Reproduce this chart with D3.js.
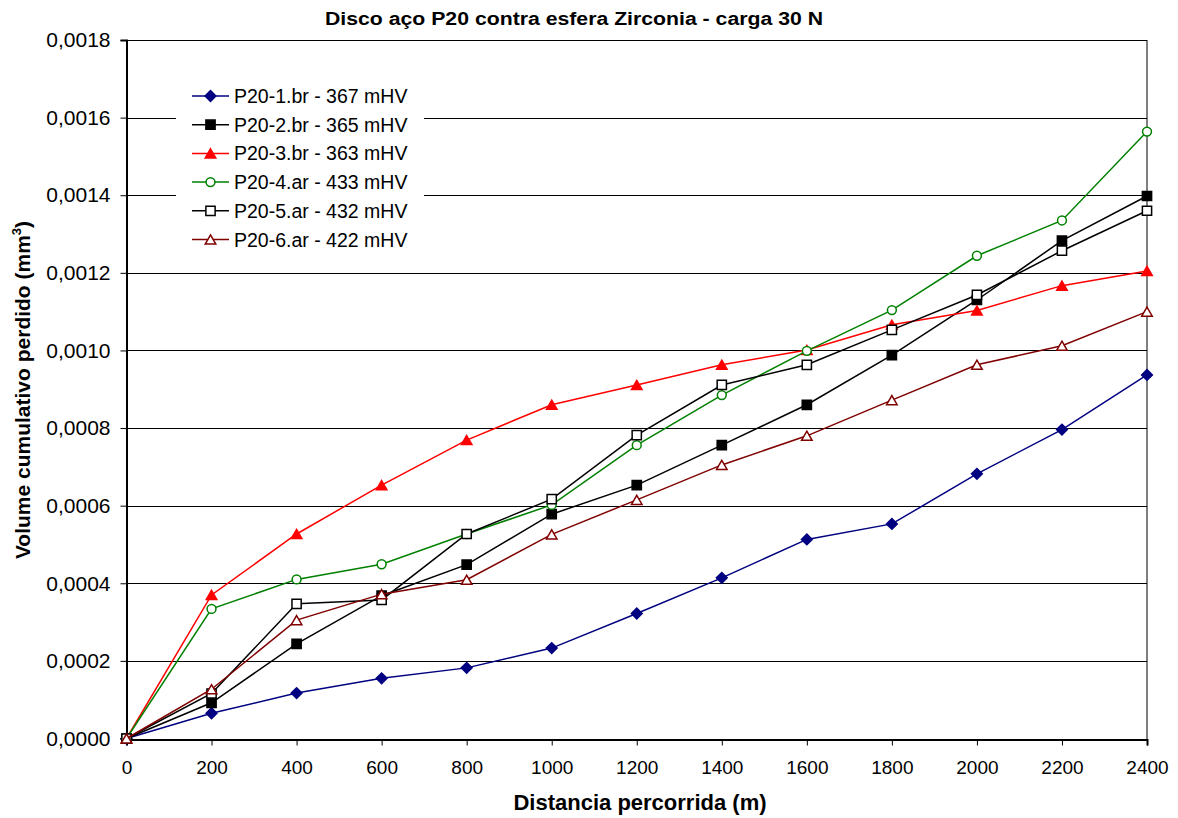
<!DOCTYPE html>
<html>
<head>
<meta charset="utf-8">
<script src="https://cdn.jsdelivr.net/npm/d3@7"></script>
<style>
	body { margin: 0; background: #fff; }
	text { font-family: "Liberation Sans", Arial, sans-serif; }
</style>
</head>
<body>
<svg id="chart" width="1178" height="818"></svg>
<script>
// Chart data
const distances = [0, 200, 400, 600, 800, 1000, 1200, 1400, 1600, 1800, 2000, 2200, 2400]
const seriesNames = [
	"P20-1.br - 367 mHV",
	"P20-2.br - 365 mHV",
	"P20-3.br - 363 mHV",
	"P20-4.ar - 433 mHV",
	"P20-5.ar - 432 mHV",
	"P20-6.ar - 422 mHV",
]
const p20_1 = [0, 0.000065, 0.000117, 0.000155, 0.000182, 0.000233, 0.000322, 0.000414, 0.000513, 0.000553, 0.000682, 0.000796, 0.000937]
const p20_2 = [0, 0.000092, 0.000244, 0.000368, 0.000448, 0.000578, 0.000653, 0.000756, 0.000860, 0.000988, 0.001130, 0.001283, 0.001398]
const p20_3 = [0, 0.000370, 0.000527, 0.000653, 0.000769, 0.000860, 0.000911, 0.000963, 0.001001, 0.001066, 0.001103, 0.001167, 0.001205]
const p20_4 = [0, 0.000334, 0.000410, 0.000449, 0.000527, 0.000602, 0.000756, 0.000885, 0.000999, 0.001104, 0.001244, 0.001335, 0.001564]
const p20_5 = [0, 0.000116, 0.000347, 0.000357, 0.000527, 0.000617, 0.000782, 0.000911, 0.000963, 0.001053, 0.001143, 0.001257, 0.001360]
const p20_6 = [0, 0.000127, 0.000305, 0.000372, 0.000409, 0.000526, 0.000615, 0.000705, 0.000780, 0.000872, 0.000963, 0.001012, 0.001100]
const yTicks = [0, 0.0002, 0.0004, 0.0006, 0.0008, 0.0010, 0.0012, 0.0014, 0.0016, 0.0018]

// marker shapes: diamond is a square turned 45 degrees
const styles = [
	{ colour: "#000080", symbol: d3.symbolSquare, size: 58, rotate: 45, dy: 0, fill: "#000080" },
	{ colour: "#000000", symbol: d3.symbolSquare, size: 85, rotate: 0, dy: 0, fill: "#000000" },
	{ colour: "#ff0000", symbol: d3.symbolTriangle, size: 48, rotate: 0, dy: 1.5, fill: "#ff0000" },
	{ colour: "#008000", symbol: d3.symbolCircle, size: 62, rotate: 0, dy: 0, fill: "#ffffff" },
	{ colour: "#000000", symbol: d3.symbolSquare, size: 85, rotate: 0, dy: 0, fill: "#ffffff" },
	{ colour: "#800000", symbol: d3.symbolTriangle, size: 48, rotate: 0, dy: 1.5, fill: "#ffffff" },
]

const series = [p20_1, p20_2, p20_3, p20_4, p20_5, p20_6].map((values, i) => ({
	name: seriesNames[i],
	style: styles[i],
	points: values.map((v, j) => ({ x: distances[j], y: v })),
}))

const margin = { left: 126.5, right: 31, top: 40, bottom: 79.5 }
const width = 1178, height = 818

const svg = d3.select("#chart")

const x = d3.scaleLinear()
	.domain([0, 2400])
	.range([margin.left, width - margin.right])
const y = d3.scaleLinear()
	.domain([0, 0.0018])
	.range([height - margin.bottom, margin.top])

const fmt = d => d3.format(".4f")(d).replace(".", ",")

// Gridlines
svg.append("g")
	.selectAll("line")
	.data(yTicks.slice(1))
	.join("line")
	.attr("x1", x(0))
	.attr("x2", x(2400))
	.attr("y1", d => Math.round(y(d)) + 0.5)
	.attr("y2", d => Math.round(y(d)) + 0.5)
	.attr("stroke", "#000")
	.attr("stroke-width", 1)

// Plot border
svg.append("rect")
	.attr("x", x(0))
	.attr("y", Math.round(y(0.0018)) + 0.5)
	.attr("width", x(2400) - x(0))
	.attr("height", Math.round(y(0)) - Math.round(y(0.0018)))
	.attr("fill", "none")
	.attr("stroke", "#000")
	.attr("stroke-width", 1)

// Axes
const yAxis = svg.append("g")
	.attr("transform", `translate(${x(0)},0)`)
	.call(d3.axisLeft(y).tickValues(yTicks).tickFormat(fmt).tickSize(6).tickPadding(10))
const xAxis = svg.append("g")
	.attr("transform", `translate(0,${Math.round(y(0)) + 0.5})`)
	.call(d3.axisBottom(x).tickValues(distances).tickFormat(d3.format("d")).tickSize(6).tickPadding(15))

for (const axis of [xAxis, yAxis]) {
	axis.select(".domain").attr("stroke", "#000").attr("stroke-width", 2)
	axis.selectAll(".tick line").attr("stroke", "#000")
	axis.selectAll(".tick text")
		.attr("fill", "#000")
		.style("font-family", "'Liberation Sans', Arial, sans-serif")
}
yAxis.selectAll(".tick text").style("font-size", "21px")
xAxis.selectAll(".tick text").style("font-size", "19px")

// Legend background (hides gridlines behind it)
const legend = { x: 176, y: 82, rowHeight: 28.7 }
svg.append("rect")
	.attr("x", legend.x)
	.attr("y", legend.y)
	.attr("width", 248)
	.attr("height", 172)
	.attr("fill", "#fff")

const symbolPath = s => d3.symbol().type(s.symbol).size(s.size)()

// Series lines and markers
const line = d3.line()
	.x(d => x(d.x))
	.y(d => y(d.y))

const groups = svg.append("g")
	.selectAll("g.series")
	.data(series)
	.join("g")
	.attr("class", "series")

groups.append("path")
	.attr("d", d => line(d.points))
	.attr("fill", "none")
	.attr("stroke", d => d.style.colour)
	.attr("stroke-width", 1.5)

groups.selectAll("path.marker")
	.data(d => d.points.map(p => ({ ...p, style: d.style })))
	.join("path")
	.attr("class", "marker")
	.attr("transform", d => `translate(${x(d.x)},${y(d.y) + d.style.dy}) rotate(${d.style.rotate})`)
	.attr("d", d => symbolPath(d.style))
	.attr("fill", d => d.style.fill)
	.attr("stroke", d => d.style.colour)
	.attr("stroke-width", 1.5)

// Legend entries
const entries = svg.append("g")
	.selectAll("g.entry")
	.data(series)
	.join("g")
	.attr("class", "entry")
	.attr("transform", (d, i) => `translate(0,${96 + i * legend.rowHeight})`)

entries.append("line")
	.attr("x1", 192)
	.attr("x2", 229)
	.attr("stroke", d => d.style.colour)
	.attr("stroke-width", 1.5)
entries.append("path")
	.attr("transform", d => `translate(210.5,${d.style.dy}) rotate(${d.style.rotate})`)
	.attr("d", d => symbolPath(d.style))
	.attr("fill", d => d.style.fill)
	.attr("stroke", d => d.style.colour)
	.attr("stroke-width", 1.5)
entries.append("text")
	.attr("x", 234)
	.attr("dy", "0.36em")
	.style("font-size", "19.5px")
	.attr("fill", "#000")
	.text(d => d.name)

// Title and axis labels
svg.append("text")
	.attr("x", 574)
	.attr("y", 25)
	.attr("text-anchor", "middle")
	.attr("textLength", 498)
	.attr("lengthAdjust", "spacingAndGlyphs")
	.style("font-size", "18px")
	.style("font-weight", "bold")
	.text("Disco aço P20 contra esfera Zirconia - carga 30 N")

svg.append("text")
	.attr("x", 640)
	.attr("y", 810)
	.attr("text-anchor", "middle")
	.style("font-size", "22px")
	.style("font-weight", "bold")
	.text("Distancia percorrida (m)")

const yLabel = svg.append("text")
	.attr("transform", "translate(30,390) rotate(-90)")
	.attr("text-anchor", "middle")
	.style("font-size", "21px")
	.style("font-weight", "bold")
yLabel.append("tspan").text("Volume cumulativo perdido (mm")
yLabel.append("tspan").attr("dy", -9).style("font-size", "13px").text("3")
yLabel.append("tspan").attr("dy", 9).text(")")
</script>
</body>
</html>
